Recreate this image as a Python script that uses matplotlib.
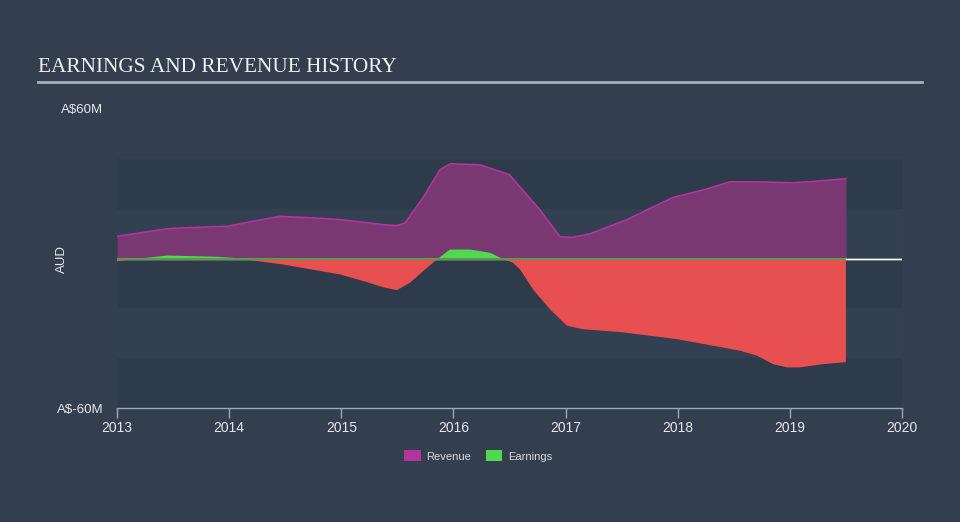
import matplotlib
matplotlib.use("Agg")
import matplotlib.pyplot as plt
from matplotlib.patches import Patch
import numpy as np

# Data (A$ millions)
rev_dates = [2013.0, 2013.446, 2013.59, 2013.98, 2014.21, 2014.45, 2014.75, 2014.99,
             2015.37, 2015.497, 2015.57, 2015.729, 2015.88, 2015.97, 2016.24, 2016.5,
             2016.77, 2016.95, 2017.066, 2017.218, 2017.548, 2017.958, 2018.261,
             2018.466, 2018.761, 2019.028, 2019.207, 2019.5]
revenue = [8.9, 11.9, 12.3, 12.9, 14.9, 16.9, 16.3, 15.6,
           13.6, 13.2, 14.3, 24.4, 35.6, 38.0, 37.6, 33.6,
           19.6, 8.7, 8.5, 9.9, 15.6, 24.5, 27.9,
           30.8, 30.7, 30.4, 30.9, 32.0]

earn_dates = [2013.0, 2013.446, 2013.89, 2014.03, 2014.48, 2014.99, 2015.23, 2015.37,
              2015.497, 2015.613, 2015.729, 2015.862, 2015.97, 2016.148, 2016.326,
              2016.433, 2016.531, 2016.594, 2016.71, 2016.861, 2017.013, 2017.156,
              2017.486, 2018.0, 2018.556, 2018.707, 2018.85, 2018.975, 2019.09,
              2019.296, 2019.5]
earnings = [-1.1, 1.2, 0.7, 0.3, -2.4, -6.4, -9.5, -11.5,
            -12.7, -9.7, -5.1, 0.0, 3.6, 3.6, 2.3,
            0.0, -1.7, -4.4, -12.4, -20.4, -27.0, -28.4,
            -29.5, -32.4, -37.0, -39.0, -42.4, -43.7, -43.7,
            -42.4, -41.6]

year_ticks = [2013, 2014, 2015, 2016, 2017, 2018, 2019, 2020]
y_ticks = [-60, 60]
y_tick_labels = ["A$-60M", "A$60M"]
series_names = ["Revenue", "Earnings"]

BG = "#333f4f"
BAND_DARK = "#2e3b4a"
BAND_LIGHT = "#324052"
REV_FILL = "#7a3873"
REV_LINE = "#b2359f"
EARN_NEG = "#e84f51"
EARN_POS = "#4fd94f"
TEXT = "#e6e8eb"
AXIS = "#9aa8b8"

fig = plt.figure(figsize=(9.6, 5.22), dpi=100, facecolor=BG)
ax = fig.add_axes([117/960, (522-408)/522, (902-117)/960, (408-109)/522])
ax.set_facecolor(BG)
ax.set_xlim(2013, 2020)
ax.set_ylim(-60, 60)

# background bands
bands = [(20, 40, BAND_DARK), (0, 20, BAND_LIGHT), (-20, 0, BAND_DARK),
         (-40, -20, BAND_LIGHT), (-60, -40, BAND_DARK)]
for lo, hi, c in bands:
    ax.axhspan(lo, hi, color=c, lw=0, zorder=0)

rd = np.array(rev_dates); rv = np.array(revenue)
ed = np.array(earn_dates); ev = np.array(earnings)

ax.fill_between(rd, 0, rv, color=REV_FILL, lw=0, zorder=2)
ax.plot(rd, rv, color=REV_LINE, lw=1.2, zorder=3, solid_joinstyle="round")

ax.axhline(0, color="white", lw=1, zorder=1.5)
ax.fill_between(ed, 0, ev, where=ev >= 0, interpolate=True, color=EARN_POS, lw=0, zorder=2)
ax.fill_between(ed, 0, ev, where=ev <= 0, interpolate=True, color=EARN_NEG, lw=0, zorder=2)
ax.plot([ed[0], ed[-1]], [0, 0], color="#5a9a4a", lw=1.5, zorder=3)
ax.axhline(0, xmin=(ed[-1]-2013)/7, xmax=1, color="white", lw=1, zorder=4)

for s in ["top", "right", "left"]:
    ax.spines[s].set_visible(False)
ax.spines["bottom"].set_color(AXIS)
ax.spines["bottom"].set_linewidth(1)

ax.set_xticks(year_ticks)
ax.set_xticklabels([str(y) for y in year_ticks], fontfamily="Liberation Sans", fontsize=10, color=TEXT)
ax.tick_params(axis="x", colors=AXIS, length=7, width=1, labelcolor=TEXT, pad=2)
ax.set_yticks(y_ticks)
ax.set_yticklabels(y_tick_labels, fontfamily="Liberation Sans", fontsize=9.5, color=TEXT)
ax.tick_params(axis="y", length=0, pad=10, labelcolor=TEXT)

fig.text(62/960, 1 - 259/522, "AUD", rotation=90, ha="center", va="center",
         fontfamily="Liberation Sans", fontsize=9.5, color=TEXT)

fig.text(38/960, 1 - 67/522, "EARNINGS AND REVENUE HISTORY", ha="left", va="center",
         fontfamily="Liberation Serif", fontsize=15.3, color="#f0f0f0")
fig.add_artist(plt.Line2D([38/960, 922/960], [1 - 82/522, 1 - 82/522],
                          color="#a9afb6", lw=2, transform=fig.transFigure))

handles = [Patch(facecolor=REV_LINE, edgecolor="none"), Patch(facecolor=EARN_POS, edgecolor="none")]
leg = fig.legend(handles, series_names, loc="center", bbox_to_anchor=(478/960, 1 - 456/522),
                 ncol=2, frameon=False, handlelength=1.5, handleheight=1.1, handletextpad=0.5,
                 columnspacing=1.3, prop={"family": "Liberation Sans", "size": 8})
for t in leg.get_texts():
    t.set_color("#d8dbe0")

fig.savefig("out.png", dpi=100, facecolor=BG)
